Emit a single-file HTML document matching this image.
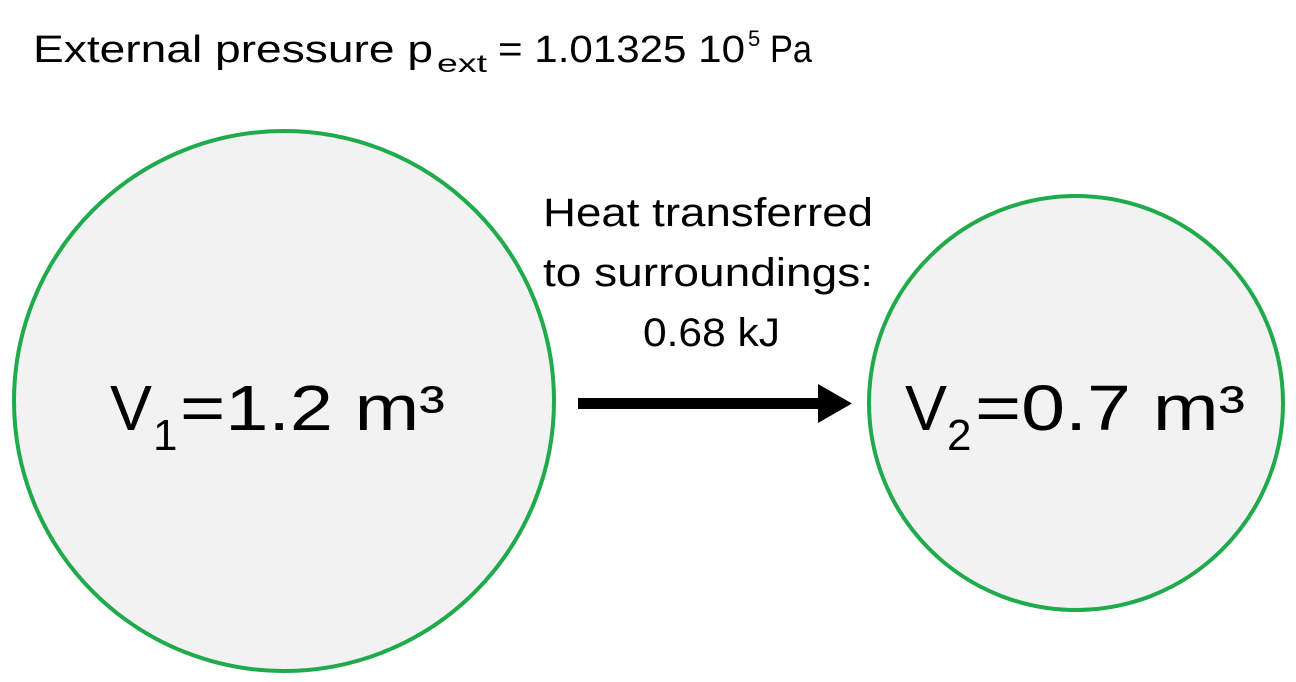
<!DOCTYPE html>
<html>
<head>
<meta charset="utf-8">
<style>
html,body{margin:0;padding:0;background:#fff;}
body{width:1296px;height:677px;overflow:hidden;position:relative;font-family:"Liberation Sans",sans-serif;}
</style>
</head>
<body>
<svg width="1296" height="677" viewBox="0 0 1296 677" xmlns="http://www.w3.org/2000/svg">
  <g font-family="Liberation Sans, sans-serif" fill="#000">
    <text x="33" y="62" font-size="38" textLength="400" lengthAdjust="spacingAndGlyphs">External pressure p</text>
    <text x="437" y="72" font-size="25" textLength="50" lengthAdjust="spacingAndGlyphs">ext</text>
    <text x="498" y="62" font-size="38" textLength="247" lengthAdjust="spacingAndGlyphs">= 1.01325 10</text>
    <text x="748" y="46" font-size="22">5</text>
    <text x="770" y="62" font-size="38" textLength="42" lengthAdjust="spacingAndGlyphs">Pa</text>
  </g>

  <circle cx="284" cy="401" r="270" fill="#f2f2f2" stroke="#1faa4b" stroke-width="4"/>
  <circle cx="1076" cy="403" r="207" fill="#f2f2f2" stroke="#1faa4b" stroke-width="4"/>

  <g font-family="Liberation Sans, sans-serif" fill="#000">
    <text x="110" y="430" font-size="64" textLength="42" lengthAdjust="spacingAndGlyphs">V</text>
    <text x="153" y="450" font-size="44">1</text>
    <text x="180" y="430" font-size="64" textLength="265" lengthAdjust="spacingAndGlyphs">=1.2 m³</text>
  </g>
  <g font-family="Liberation Sans, sans-serif" fill="#000">
    <text x="905" y="430" font-size="64" textLength="42" lengthAdjust="spacingAndGlyphs">V</text>
    <text x="947" y="450" font-size="44">2</text>
    <text x="975" y="430" font-size="64" textLength="270" lengthAdjust="spacingAndGlyphs">=0.7 m³</text>
  </g>

  <g>
    <rect x="578" y="398" width="244" height="11" fill="#000"/>
    <polygon points="818,384 852,403.5 818,423" fill="#000"/>
  </g>

  <g font-family="Liberation Sans, sans-serif" font-size="40" fill="#000">
    <text x="543" y="226" textLength="330" lengthAdjust="spacingAndGlyphs">Heat transferred</text>
    <text x="543" y="286" textLength="330" lengthAdjust="spacingAndGlyphs">to surroundings:</text>
    <text x="643" y="346" textLength="137" lengthAdjust="spacingAndGlyphs">0.68 kJ</text>
  </g>
</svg>
</body>
</html>
